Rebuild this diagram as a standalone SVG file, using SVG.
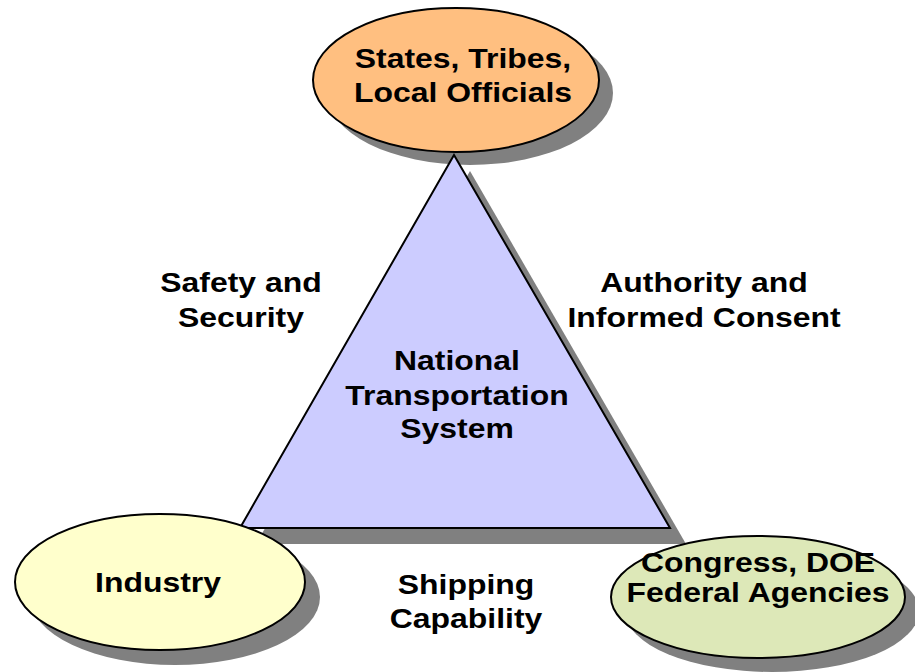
<svg xmlns="http://www.w3.org/2000/svg" width="915" height="672" viewBox="0 0 915 672">
<style>
.t{font-family:"Liberation Sans",Arial,sans-serif;font-weight:bold;font-size:28px;fill:#000;text-anchor:middle}
.sh{fill:#808080;stroke:none}
.o{stroke:#000;stroke-width:2}
</style>
<rect width="915" height="672" fill="#fff"/>
<g id="connectors"></g>
<g id="top-shadow"><ellipse class="sh" cx="470" cy="93" rx="143" ry="72"/></g>
<g id="triangle">
<polygon class="sh" points="470,171 686,544 256,544"/>
<polygon class="o" fill="#CCCCFF" points="454,155 670,528 240,528"/>
<g transform="translate(457,0) scale(1.14,1)">
<text class="t" x="0" y="370">National</text>
<text class="t" x="0" y="405">Transportation</text>
<text class="t" x="0" y="438">System</text>
</g>
</g>
<g id="states">
<ellipse class="o" fill="#FFBF80" cx="456" cy="80" rx="143" ry="72"/>
<g transform="translate(463,0) scale(1.14,1)">
<text class="t" x="0" y="68">States, Tribes,</text>
<text class="t" x="0" y="102">Local Officials</text>
</g>
</g>
<g id="industry">
<ellipse class="sh" cx="175" cy="597" rx="145" ry="68"/>
<ellipse class="o" fill="#FFFFCC" cx="160" cy="582" rx="145" ry="68"/>
<g transform="translate(158,0) scale(1.14,1)">
<text class="t" x="0" y="592">Industry</text>
</g>
</g>
<g id="congress">
<ellipse class="sh" cx="772" cy="611" rx="147" ry="61"/>
<ellipse class="o" fill="#DDE8B8" cx="758" cy="597" rx="147" ry="61"/>
<g transform="translate(758,0) scale(1.14,1)">
<text class="t" x="0" y="572">Congress, DOE</text>
<text class="t" x="0" y="602">Federal Agencies</text>
</g>
</g>
<g id="labels">
<g transform="translate(241,0) scale(1.14,1)">
<text class="t" x="0" y="292">Safety and</text>
<text class="t" x="0" y="327">Security</text>
</g>
<g transform="translate(704,0) scale(1.14,1)">
<text class="t" x="0" y="292">Authority and</text>
<text class="t" x="0" y="327">Informed Consent</text>
</g>
<g transform="translate(466,0) scale(1.14,1)">
<text class="t" x="0" y="594">Shipping</text>
<text class="t" x="0" y="628">Capability</text>
</g>
</g>
</svg>
